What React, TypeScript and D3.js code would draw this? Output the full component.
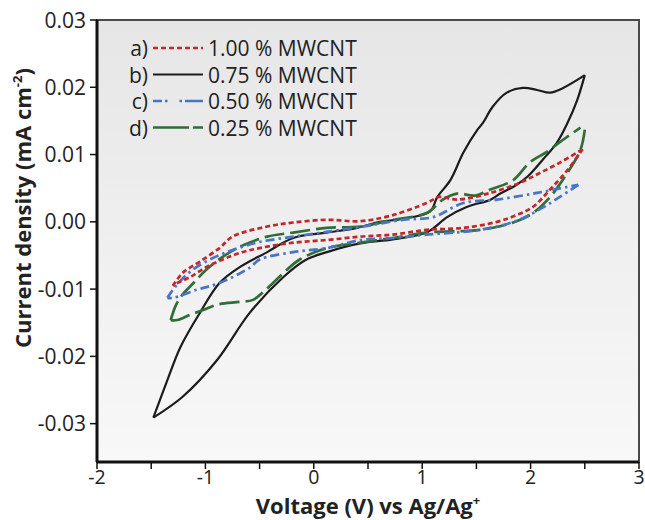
import * as d3 from "d3";
import { useEffect, useRef } from "react";

// axis ticks
const xTicks = [-2, -1, 0, 1, 2, 3];
const xMinorTicks = [-1.5, -0.5, 0.5, 1.5, 2.5];
const yTicks = [-0.03, -0.02, -0.01, 0, 0.01, 0.02, 0.03];

// legend
const legendTags = ["a)", "b)", "c)", "d)"];
const legendNames = ["1.00 % MWCNT", "0.75 % MWCNT", "0.50 % MWCNT", "0.25 % MWCNT"];

// CV loops, [voltage V, current density mA cm-2]; forward scan then reverse scan
const mw100Forward = [
  [-1.30, -0.0095], [-1.21, -0.0076], [-1.05, -0.0059], [-0.87, -0.0039], [-0.75, -0.0022],
  [-0.43, -0.0007], [-0.19, -0.0001], [0.12, 0.0003], [0.43, 0.0001], [0.73, 0.0010],
  [1.04, 0.0028], [1.16, 0.0037], [1.32, 0.0033], [1.63, 0.0043], [1.90, 0.0058],
  [2.09, 0.0073], [2.27, 0.0088], [2.48, 0.0108],
];
const mw100Reverse = [
  [2.48, 0.0108], [2.34, 0.0077], [2.18, 0.0048], [2.02, 0.0022], [1.87, 0.0010],
  [1.69, 0.0000], [1.38, -0.0009], [1.04, -0.0012], [0.73, -0.0019], [0.43, -0.0022],
  [0.12, -0.0027], [-0.19, -0.0031], [-0.50, -0.0039], [-0.68, -0.0046], [-0.84, -0.0056],
  [-0.99, -0.0067], [-1.14, -0.0082], [-1.26, -0.0091], [-1.30, -0.0095],
];

const mw075Forward = [
  [-1.48, -0.0291], [-1.35, -0.0235], [-1.23, -0.0186], [-1.05, -0.0135], [-0.87, -0.0091],
  [-0.68, -0.0067], [-0.43, -0.0045], [-0.19, -0.0024], [0.12, -0.0016], [0.40, -0.0009],
  [0.61, 0.0000], [0.80, 0.0004], [1.07, 0.0015], [1.14, 0.0037], [1.26, 0.0062],
  [1.38, 0.0103], [1.51, 0.0137], [1.56, 0.0147], [1.65, 0.0171], [1.78, 0.0192],
  [1.93, 0.0199], [2.06, 0.0196], [2.18, 0.0192], [2.30, 0.0199], [2.50, 0.0218],
];
const mw075Reverse = [
  [2.50, 0.0218], [2.43, 0.0181], [2.34, 0.0147], [2.24, 0.0117], [2.11, 0.0092],
  [1.97, 0.0067], [1.86, 0.0054], [1.72, 0.0042], [1.63, 0.0033], [1.41, 0.0022],
  [1.23, 0.0007], [1.05, -0.0015], [0.73, -0.0026], [0.43, -0.0032], [0.12, -0.0045],
  [-0.08, -0.0057], [-0.28, -0.0082], [-0.59, -0.0135], [-0.89, -0.0205], [-1.21, -0.0260],
  [-1.48, -0.0291],
];

const mw050Forward = [
  [-1.35, -0.0113], [-1.28, -0.0097], [-1.14, -0.0074], [-0.96, -0.0056], [-0.75, -0.0042],
  [-0.50, -0.0030], [-0.19, -0.0022], [0.12, -0.0015], [0.49, -0.0006], [0.82, 0.0003],
  [1.10, 0.0007], [1.38, 0.0028], [1.69, 0.0033], [2.06, 0.0043], [2.34, 0.0052],
  [2.44, 0.0055],
];
const mw050Reverse = [
  [2.44, 0.0055], [2.27, 0.0037], [2.11, 0.0021], [1.88, 0.0002], [1.53, -0.0012],
  [1.04, -0.0019], [0.73, -0.0024], [0.43, -0.0027], [0.12, -0.0039], [-0.19, -0.0045],
  [-0.50, -0.0056], [-0.59, -0.0068], [-0.87, -0.0091], [-1.08, -0.0101], [-1.30, -0.0113],
  [-1.35, -0.0113],
];

const mw025Forward = [
  [-1.32, -0.0146], [-1.27, -0.0123], [-1.21, -0.0108], [-1.11, -0.0091], [-0.99, -0.0071],
  [-0.84, -0.0052], [-0.68, -0.0037], [-0.43, -0.0022], [-0.19, -0.0016], [0.12, -0.0009],
  [0.43, -0.0007], [0.73, 0.0003], [1.04, 0.0013], [1.19, 0.0033], [1.32, 0.0042],
  [1.49, 0.0039], [1.63, 0.0048], [1.84, 0.0062], [1.99, 0.0088], [2.15, 0.0104],
  [2.30, 0.0122], [2.46, 0.0140],
];
const mw025Reverse = [
  [2.50, 0.0137], [2.46, 0.0107], [2.34, 0.0073], [2.18, 0.0037], [2.02, 0.0013],
  [1.84, -0.0001], [1.53, -0.0012], [1.04, -0.0016], [0.73, -0.0024], [0.43, -0.0031],
  [0.12, -0.0039], [-0.13, -0.0056], [-0.28, -0.0076], [-0.43, -0.0099], [-0.56, -0.0116],
  [-0.68, -0.0119], [-0.89, -0.0123], [-1.02, -0.0131], [-1.14, -0.0138], [-1.26, -0.0146],
  [-1.32, -0.0146],
];

const styles = [
  { color: "#c1272d", dash: "5,3", width: 2.7 },
  { color: "#1c1c1c", dash: null, width: 2.2 },
  { color: "#4a74c4", dash: "9,4,2.5,4", width: 2.7 },
  { color: "#2f6e35", dash: "20,6", width: 2.7 },
];

const loops = [
  [mw100Forward, mw100Reverse],
  [mw075Forward, mw075Reverse],
  [mw050Forward, mw050Reverse],
  [mw025Forward, mw025Reverse],
];

const legendDash = ["5,3", null, "9,3,2.5,12,2.5,3,20", "36,4,10"];

const font = "'Open Sans', sans-serif";

function CvChart() {
  const ref = useRef(null);

  useEffect(() => {
    const svg = d3.select(ref.current);
    svg.selectAll("*").remove();

    const width = 645;
    const height = 520;
    const margin = { top: 20, right: 6, bottom: 58, left: 97 };
    const plotW = width - margin.left - margin.right;
    const plotH = height - margin.top - margin.bottom;

    svg.attr("width", width).attr("height", height);

    const grad = svg
      .append("defs")
      .append("linearGradient")
      .attr("id", "bg")
      .attr("x1", 0)
      .attr("y1", 0)
      .attr("x2", 0)
      .attr("y2", 1);
    grad.append("stop").attr("offset", "0%").attr("stop-color", "#e6e6e6");
    grad.append("stop").attr("offset", "100%").attr("stop-color", "#f8f8f8");

    const x = d3.scaleLinear().domain([-2, 3]).range([0, plotW]);
    const y = d3.scaleLinear().domain([-0.0357, 0.03]).range([plotH, 0]);

    const g = svg.append("g").attr("transform", `translate(${margin.left},${margin.top})`);

    g.append("rect")
      .attr("width", plotW)
      .attr("height", plotH)
      .attr("fill", "url(#bg)")
      .attr("stroke", "#4a4a4a")
      .attr("stroke-width", 2);

    // curves
    const line = d3
      .line()
      .x(d => x(d[0]))
      .y(d => y(d[1]))
      .curve(d3.curveCatmullRom.alpha(0.5));

    const order = [1, 3, 2, 0];
    order.forEach(i => {
      const s = styles[i];
      loops[i].forEach(branch => {
        g.append("path")
          .attr("d", line(branch))
          .attr("fill", "none")
          .attr("stroke", s.color)
          .attr("stroke-width", s.width)
          .attr("stroke-dasharray", s.dash)
          .attr("stroke-linejoin", "round");
      });
    });

    // axes
    const xAxis = g.append("g").attr("transform", `translate(0,${plotH})`);
    xAxis.append("line").attr("x1", 0).attr("x2", plotW).attr("stroke", "#111").attr("stroke-width", 3);
    xAxis
      .selectAll(".major")
      .data(xTicks.concat(xMinorTicks))
      .enter()
      .append("line")
      .attr("x1", d => x(d))
      .attr("x2", d => x(d))
      .attr("y1", 0)
      .attr("y2", 7)
      .attr("stroke", "#111")
      .attr("stroke-width", 1.5);
    xAxis
      .selectAll("text")
      .data(xTicks)
      .enter()
      .append("text")
      .attr("x", d => x(d))
      .attr("y", 22)
      .attr("text-anchor", "middle")
      .style("font-family", font)
      .style("font-size", "19.5px")
      .attr("fill", "#222")
      .text(d => (d < 0 ? `-${Math.abs(d)}` : `${d}`));

    const yAxis = g.append("g");
    yAxis.append("line").attr("y1", 0).attr("y2", plotH).attr("stroke", "#111").attr("stroke-width", 3);
    yAxis
      .selectAll(".tick")
      .data(yTicks)
      .enter()
      .append("line")
      .attr("x1", -7)
      .attr("x2", 0)
      .attr("y1", d => y(d))
      .attr("y2", d => y(d))
      .attr("stroke", "#111")
      .attr("stroke-width", 1.5);
    yAxis
      .selectAll("text")
      .data(yTicks)
      .enter()
      .append("text")
      .attr("x", -11)
      .attr("y", d => y(d) + 7.5)
      .attr("text-anchor", "end")
      .style("font-family", font)
      .style("font-size", "21px")
      .attr("fill", "#222")
      .text(d => (d < 0 ? `-${Math.abs(d).toFixed(2)}` : d.toFixed(2)));

    // titles
    const xt = svg
      .append("text")
      .attr("x", margin.left + plotW / 2)
      .attr("y", 514)
      .attr("text-anchor", "middle")
      .style("font-family", font)
      .style("font-size", "22px")
      .style("font-weight", "bold")
      .attr("fill", "#222");
    xt.append("tspan").text("Voltage (V) vs Ag/Ag");
    xt.append("tspan").attr("dy", -9).style("font-size", "13px").text("+");

    const yt = svg
      .append("text")
      .attr("transform", `translate(31,208) rotate(-90)`)
      .attr("text-anchor", "middle")
      .style("font-family", font)
      .style("font-size", "22px")
      .style("font-weight", "bold")
      .attr("fill", "#222");
    yt.append("tspan").text("Current density (mA cm");
    yt.append("tspan").attr("dy", -9).style("font-size", "13px").text("-2");
    yt.append("tspan").attr("dy", 9).text(")");

    // legend
    const legend = svg.append("g");
    legendNames.forEach((name, i) => {
      const cy = 48 + i * 26.5;
      const s = styles[i];
      legend
        .append("text")
        .attr("x", 148)
        .attr("y", cy + 8)
        .attr("text-anchor", "end")
        .style("font-family", font)
        .style("font-size", "21px")
        .attr("fill", "#222")
        .text(legendTags[i]);
      legend
        .append("line")
        .attr("x1", 153)
        .attr("x2", 203)
        .attr("y1", cy)
        .attr("y2", cy)
        .attr("stroke", s.color)
        .attr("stroke-width", s.width)
        .attr("stroke-dasharray", legendDash[i]);
      legend
        .append("text")
        .attr("x", 208)
        .attr("y", cy + 8)
        .style("font-family", font)
        .style("font-size", "21px")
        .attr("fill", "#222")
        .text(name);
    });
  }, []);

  return <svg ref={ref} style={{ position: "absolute", left: 0, top: 0 }} />;
}

export default function App() {
  return <CvChart />;
}
